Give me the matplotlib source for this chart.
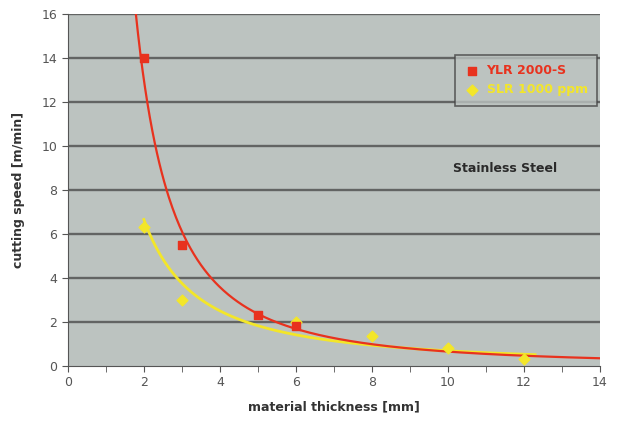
import matplotlib.pyplot as plt
import numpy as np

# --------------------------------------------------
# Measured cutting speeds, stainless steel
# --------------------------------------------------
ylr_thickness = [2, 3, 5, 6]
ylr_speed     = [14.0, 5.5, 2.3, 1.8]

slr_thickness = [2, 3, 6, 8, 10, 12]
slr_speed     = [6.3, 3.0, 2.0, 1.35, 0.8, 0.3]

series_labels = ['YLR 2000-S', 'SLR 1000 ppm']

red = '#e8321e'
yellow = '#f3e629'


def power_fit(x, y):
    # y = a * x^b, fitted in log-log space
    b, ln_a = np.polyfit(np.log(x), np.log(y), 1)
    return np.exp(ln_a), b


# --------------------------------------------------
# Figure Setup
# --------------------------------------------------
fig = plt.figure(figsize=(6.17, 4.26), dpi=100)
ax = fig.add_axes([0.110, 0.141, 0.862, 0.826])
ax.set_facecolor('#bcc3c0')

ax.set_xlim(0, 14)
ax.set_ylim(0, 16)

# horizontal gridlines
for yv in range(2, 17, 2):
    ax.axhline(yv, color='#626463', lw=1.7, zorder=1)

# --------------------------------------------------
# Trend curves
# --------------------------------------------------
a_r, b_r = power_fit(ylr_thickness, ylr_speed)
xr = np.linspace(1.5, 14, 400)
ax.plot(xr, a_r * xr ** b_r, color=red, lw=1.6, zorder=3)

a_y, b_y = power_fit(slr_thickness, slr_speed)
xy = np.linspace(2, 12.3, 400)
ax.plot(xy, a_y * xy ** b_y, color=yellow, lw=2.0, zorder=2)

# --------------------------------------------------
# Data points
# --------------------------------------------------
ax.scatter(slr_thickness, slr_speed, marker='D', s=30, color=yellow,
           zorder=4, label=series_labels[1])
ax.scatter(ylr_thickness, ylr_speed, marker='s', s=40, color=red,
           zorder=5, label=series_labels[0])

# --------------------------------------------------
# Ticks and labels
# --------------------------------------------------
ax.set_xticks(range(0, 15, 2))
ax.set_xticks(range(0, 15, 1), minor=True)
ax.set_yticks(range(0, 17, 2))
ax.tick_params(axis='both', which='both', direction='out', length=4,
               color='#555555', labelsize=9, labelcolor='#555555')

for side in ['top', 'right']:
    ax.spines[side].set_visible(False)
for side in ['left', 'bottom']:
    ax.spines[side].set_color('#555555')

ax.set_xlabel('material thickness [mm]', fontsize=9, fontweight='bold',
              color='#333333', labelpad=8)
ax.set_ylabel('cutting speed [m/min]', fontsize=9, fontweight='bold',
              color='#333333', labelpad=12)

ax.text(11.5, 9.0, 'Stainless Steel', fontsize=9, fontweight='bold',
        color='#2a2a2a', ha='center', va='center')

# --------------------------------------------------
# Legend
# --------------------------------------------------
handles, labels = ax.get_legend_handles_labels()
leg = ax.legend(handles[::-1], labels[::-1], loc='upper right',
                bbox_to_anchor=(0.995, 0.885), borderaxespad=0,
                fontsize=9, frameon=True, fancybox=False,
                handletextpad=0.6, borderpad=0.75, labelspacing=0.5,
                handlelength=1.2)
leg.get_frame().set_facecolor('#bcc3c0')
leg.get_frame().set_edgecolor('#444444')
leg.get_frame().set_linewidth(1.2)
for txt, col in zip(leg.get_texts(), [red, yellow]):
    txt.set_color(col)
    txt.set_fontweight('bold')

fig.savefig('out.png', dpi=100)
